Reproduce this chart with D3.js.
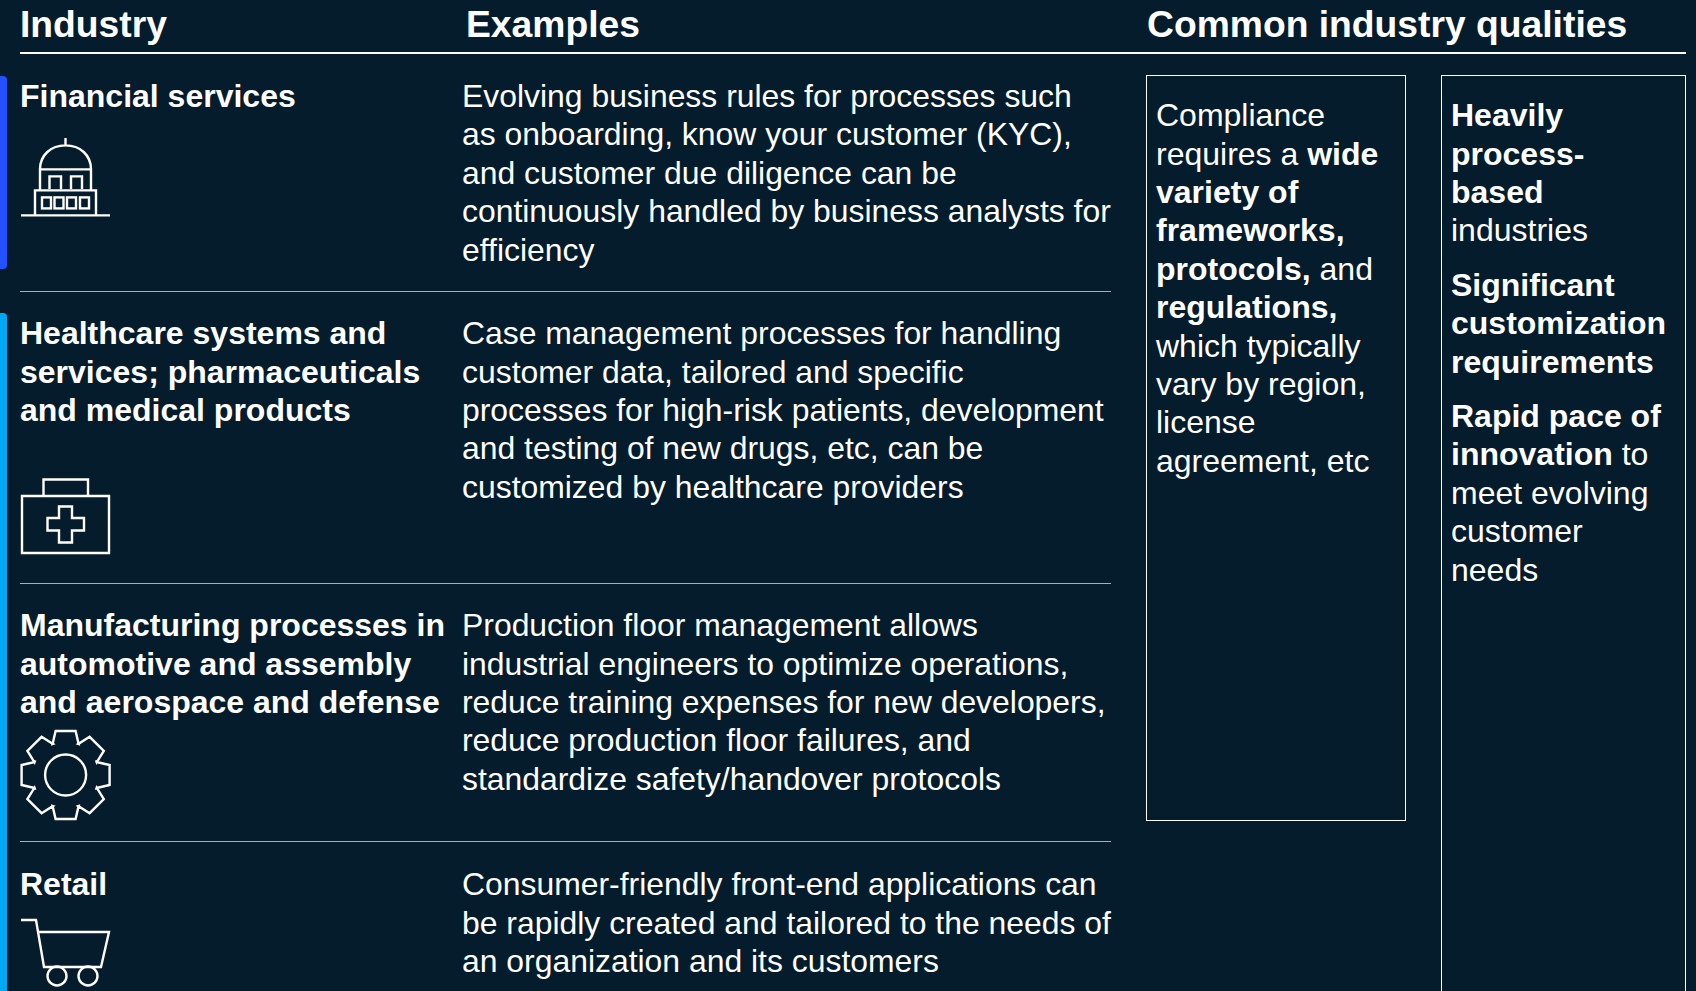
<!DOCTYPE html>
<html>
<head>
<meta charset="utf-8">
<script src="https://cdnjs.cloudflare.com/ajax/libs/d3/7.8.5/d3.min.js"></script>
<style>
    html, body { margin: 0; padding: 0; background: #051c2c; overflow: hidden; }
    text { font-family: "Liberation Sans", Arial, sans-serif; fill: #fff; }
</style>
</head>
<body>
<div id="chart"></div>
<script>
// table content, *...* marks bold runs
const headers = ['Industry', 'Examples', 'Common industry qualities'];
const industries = [
    ['Financial services'],
    ['Healthcare systems and', 'services; pharmaceuticals', 'and medical products'],
    ['Manufacturing processes in', 'automotive and assembly', 'and aerospace and defense'],
    ['Retail']
];
const examples = [
    ['Evolving business rules for processes such', 'as onboarding, know your customer (KYC),', 'and customer due diligence can be', 'continuously handled by business analysts for', 'efficiency'],
    ['Case management processes for handling', 'customer data, tailored and specific', 'processes for high-risk patients, development', 'and testing of new drugs, etc, can be', 'customized by healthcare providers'],
    ['Production floor management allows', 'industrial engineers to optimize operations,', 'reduce training expenses for new developers,', 'reduce production floor failures, and', 'standardize safety/handover protocols'],
    ['Consumer-friendly front-end applications can', 'be rapidly created and tailored to the needs of', 'an organization and its customers']
];
const qualitiesLeft = [
    ['Compliance', 'requires a *wide*', '*variety of*', '*frameworks,*', '*protocols,* and', '*regulations,*', 'which typically', 'vary by region,', 'license', 'agreement, etc']
];
const qualitiesRight = [
    ['*Heavily*', '*process-*', '*based*', 'industries'],
    ['*Significant*', '*customization*', '*requirements*'],
    ['*Rapid pace of*', '*innovation* to', 'meet evolving', 'customer', 'needs']
];

const width = 1696, height = 991;
const lineH = 38.4, paraGap = 16;
const rowBaselines = [107, 344.2, 636.2, 895.2];
const dividers = [291.5, 583.5, 841.5];

const svg = d3.select('#chart').append('svg')
    .attr('width', width)
    .attr('height', height)
    .style('display', 'block');

svg.append('rect').attr('width', width).attr('height', height).attr('fill', '#051c2c');

// writes lines of text, splitting on * to toggle bold
function writeLines(x, y, lines, size, bold) {
    const t = svg.append('g');
    lines.forEach((line, i) => {
        const el = t.append('text')
            .attr('x', x)
            .attr('y', y + i * lineH)
            .attr('font-size', size)
            .attr('font-weight', bold ? 700 : 400);
        line.split('*').forEach((run, j) => {
            if (run === '') return;
            el.append('tspan')
                .attr('font-weight', (bold || j % 2 === 1) ? 700 : 400)
                .text(run);
        });
    });
}

// left accent bars
svg.append('path').attr('fill', '#2251ff')
    .attr('d', 'M0,76H3Q7,76 7,80V265Q7,269 3,269H0Z');
svg.append('path').attr('fill', '#00a9f4')
    .attr('d', 'M0,313H3Q7,313 7,317V991H0Z');

// header
svg.append('text').attr('x', 20).attr('y', 37).attr('font-size', 37.25).attr('font-weight', 700).text(headers[0]);
svg.append('text').attr('x', 466).attr('y', 37).attr('font-size', 37.25).attr('font-weight', 700).text(headers[1]);
svg.append('text').attr('x', 1147).attr('y', 37).attr('font-size', 37.25).attr('font-weight', 700).text(headers[2]);
svg.append('line').attr('x1', 20).attr('x2', 1686).attr('y1', 53).attr('y2', 53)
    .attr('stroke', '#fff').attr('stroke-width', 2);

// row dividers
svg.selectAll('line.divider').data(dividers).join('line')
    .attr('class', 'divider')
    .attr('x1', 20).attr('x2', 1111)
    .attr('y1', d => d).attr('y2', d => d)
    .attr('stroke', '#a9b0b5').attr('stroke-width', 1);

industries.forEach((lines, i) => writeLines(20, rowBaselines[i], lines, 32, true));
examples.forEach((lines, i) => writeLines(462, rowBaselines[i], lines, 31.9, false));

// quality boxes
svg.append('rect').attr('x', 1146.5).attr('y', 75.5).attr('width', 259).attr('height', 745)
    .attr('fill', 'none').attr('stroke', '#fff').attr('stroke-width', 1);
svg.append('rect').attr('x', 1441.5).attr('y', 75.5).attr('width', 244).attr('height', 1000)
    .attr('fill', 'none').attr('stroke', '#fff').attr('stroke-width', 1);

writeLines(1156, 126.2, qualitiesLeft[0], 32, false);
let yRight = 126.2;
qualitiesRight.forEach(lines => {
    writeLines(1451, yRight, lines, 32, false);
    yRight += lines.length * lineH + paraGap;
});

// icons
const icons = svg.append('g').attr('fill', 'none').attr('stroke', '#fff').attr('stroke-width', 2.4);

// bank
icons.append('path').attr('d', 'M21,215.4H110M35,215.4V190.4H96V215.4M40,190.4V169.4H91V190.4M40,169.4C40,155 51,145.4 65.5,145.4C80,145.4 91,155 91,169.4M65.5,145.4V138M49.5,189V176.4H61V189M71,189V176.4H82V189');
[42, 54.5, 67, 80].forEach(x => {
    icons.append('rect').attr('x', x).attr('y', 197.4).attr('width', 9).attr('height', 11);
});

// medical kit
icons.append('path').attr('d', 'M22,496H109V553H22ZM43.5,496V479.5H88V496M59,506.5H72V518H84V530.5H72V542.5H59V530.5H47.5V518H59Z');

// gear
const gearCenter = [65.6, 775];
let gearPath = '';
d3.range(8).forEach(i => {
    const pts = [[-13, -31], [-10, -44], [10, -44], [13, -31]];
    const a = i * Math.PI / 4;
    pts.forEach(p => {
        const x = gearCenter[0] + p[0] * Math.cos(a) - p[1] * Math.sin(a);
        const y = gearCenter[1] + p[0] * Math.sin(a) + p[1] * Math.cos(a);
        gearPath += (gearPath === '' ? 'M' : 'L') + x.toFixed(1) + ',' + y.toFixed(1);
    });
});
icons.append('path').attr('d', gearPath + 'Z');
icons.append('circle').attr('cx', gearCenter[0]).attr('cy', gearCenter[1]).attr('r', 20.5);

// cart
icons.append('path').attr('d', 'M21,920H36L44,967H101L109,932H38');
icons.append('circle').attr('cx', 57).attr('cy', 976).attr('r', 9.5);
icons.append('circle').attr('cx', 88).attr('cy', 976).attr('r', 9.5);
</script>
</body>
</html>
